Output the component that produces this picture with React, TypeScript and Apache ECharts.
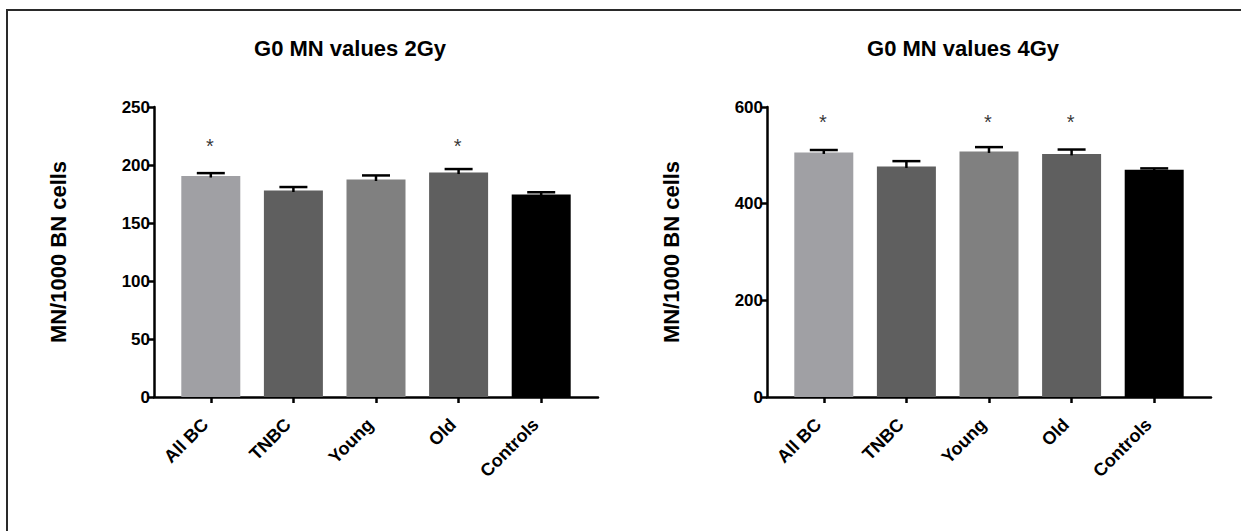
import React, { useEffect, useRef } from "react";
import * as echarts from "echarts";

const categories = ["All BC", "TNBC", "Young", "Old", "Controls"];
const barColors = ["#a0a0a4", "#5f5f5f", "#808080", "#5f5f5f", "#000000"];

const means2Gy = [190.5, 178, 187.5, 193.5, 174.5];
const sem2Gy = [2.5, 3, 3.5, 3, 2];
const sig2Gy = [true, false, false, true, false];
const starLevel2Gy = 220;
const yTicks2Gy = { min: 0, max: 250, interval: 50 };

const means4Gy = [506, 477, 508, 503, 470];
const sem4Gy = [5, 11, 9, 9, 3];
const sig4Gy = [true, false, true, true, false];
const starLevel4Gy = 577;
const yTicks4Gy = { min: 0, max: 600, interval: 200 };

const titles = ["G0 MN values 2Gy", "G0 MN values 4Gy"];
const yName = "MN/1000 BN cells";

const FONT = 'Arial, "Liberation Sans", sans-serif';

export default function App() {
  const ref = useRef<HTMLDivElement>(null);
  useEffect(() => {
    if (!ref.current) return;
    const chart = echarts.init(ref.current, null, { renderer: "svg" });

    const panels = [
      { x0: 154, title: titles[0], means: means2Gy, sem: sem2Gy, sig: sig2Gy, star: starLevel2Gy, yt: yTicks2Gy, titleX: 345 },
      { x0: 767, title: titles[1], means: means4Gy, sem: sem4Gy, sig: sig4Gy, star: starLevel4Gy, yt: yTicks4Gy, titleX: 958 },
    ];
    const top = 107;
    const height = 290;
    const frameW = 444;
    const catW = 413;
    const inset = (frameW - catW) / 2;

    const grid: any[] = [];
    const xAxis: any[] = [];
    const yAxis: any[] = [];
    const series: any[] = [];
    const title: any[] = [];

    panels.forEach((p, pi) => {
      const gFrame = pi * 2;
      const gBars = pi * 2 + 1;
      grid.push({ left: p.x0, top, width: frameW, height, containLabel: false });
      grid.push({ left: p.x0 + inset, top, width: catW, height, containLabel: false });

      xAxis.push({
        gridIndex: gFrame,
        type: "value",
        min: 0,
        max: 1,
        axisLine: { show: true, onZero: false, lineStyle: { color: "#000", width: 2.5 } },
        axisTick: { show: false },
        axisLabel: { show: false },
        splitLine: { show: false },
      });
      xAxis.push({
        gridIndex: gBars,
        type: "category",
        data: categories,
        axisLine: { show: false },
        axisTick: { show: true, alignWithLabel: true, length: 6, lineStyle: { color: "#000", width: 2.5 } },
        axisLabel: {
          rotate: 45,
          margin: 19,
          padding: [0, 8, 0, 0],
          color: "#000",
          fontWeight: "bold",
          fontSize: 18,
          fontFamily: FONT,
        },
        splitLine: { show: false },
      });

      yAxis.push({
        gridIndex: gFrame,
        type: "value",
        min: p.yt.min,
        max: p.yt.max,
        interval: p.yt.interval,
        name: yName,
        nameLocation: "middle",
        nameGap: 85,
        nameTextStyle: { color: "#000", fontWeight: "bold", fontSize: 22, fontFamily: FONT },
        axisLine: { show: true, lineStyle: { color: "#000", width: 2.5 } },
        axisTick: { show: true, length: 6, lineStyle: { color: "#000", width: 2.5 } },
        axisLabel: { color: "#000", fontWeight: "bold", fontSize: 17, fontFamily: FONT, margin: 4 },
        splitLine: { show: false },
      });
      yAxis.push({
        gridIndex: gBars,
        type: "value",
        min: p.yt.min,
        max: p.yt.max,
        interval: p.yt.interval,
        show: false,
        splitLine: { show: false },
      });

      series.push({
        type: "bar",
        xAxisIndex: gBars,
        yAxisIndex: gBars,
        barWidth: 59,
        data: p.means.map((v, i) => ({ value: v, itemStyle: { color: barColors[i] } })),
      });
      series.push({
        type: "custom",
        xAxisIndex: gBars,
        yAxisIndex: gBars,
        z: 5,
        data: p.means.map((v, i) => [i, v, p.sem[i]]),
        renderItem: (params: any, api: any) => {
          const x = api.value(0);
          const m = api.value(1);
          const e = api.value(2);
          const base = api.coord([x, m]);
          const tip = api.coord([x, m + e]);
          const half = 14;
          const style = { stroke: "#000", lineWidth: 2.5 };
          return {
            type: "group",
            children: [
              { type: "line", shape: { x1: base[0], y1: base[1] + 1.5, x2: tip[0], y2: tip[1] }, style },
              { type: "line", shape: { x1: tip[0] - half, y1: tip[1], x2: tip[0] + half, y2: tip[1] }, style },
            ],
          };
        },
      });
      series.push({
        type: "scatter",
        xAxisIndex: gBars,
        yAxisIndex: gBars,
        symbolSize: 1,
        itemStyle: { color: "rgba(0,0,0,0)" },
        data: p.sig.map((s, i) => (s ? [i, p.star] : null)).filter((d) => d !== null),
        label: {
          show: true,
          position: "inside",
          formatter: "*",
          color: "#000",
          fontSize: 20,
          fontFamily: FONT,
          offset: [-1, 4],
        },
      });

      title.push({
        text: p.title,
        left: p.titleX,
        top: 32,
        textAlign: "center",
        textStyle: { color: "#000", fontWeight: "bold", fontSize: 22, fontFamily: FONT },
      });
    });

    chart.setOption({
      animation: false,
      backgroundColor: "#fff",
      title,
      grid,
      xAxis,
      yAxis,
      series,
      graphic: [
        {
          type: "rect",
          shape: { x: 7, y: 10, width: 1400, height: 700 },
          style: { fill: "none", stroke: "#2a2a2a", lineWidth: 2 },
          silent: true,
        },
      ],
    });
    return () => chart.dispose();
  }, []);

  return (
    <div
      ref={ref}
      style={{ position: "fixed", left: 0, top: 0, width: 1241, height: 531, background: "#fff" }}
    />
  );
}
